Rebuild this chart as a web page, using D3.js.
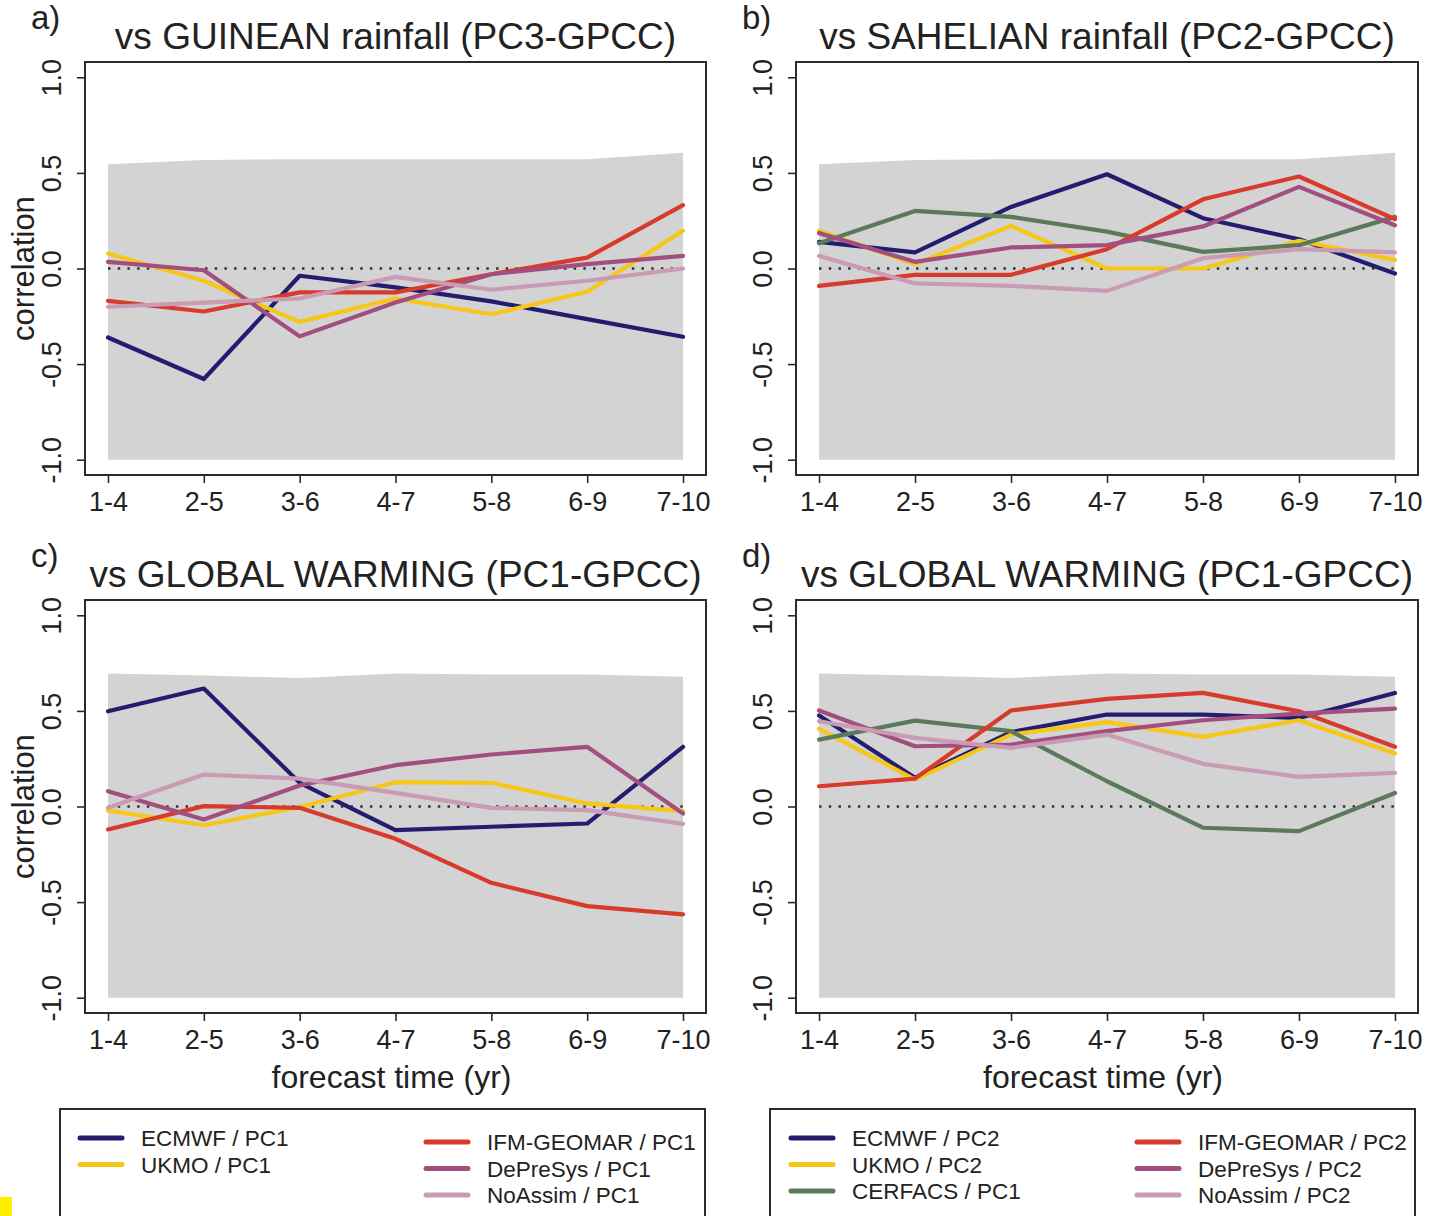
<!DOCTYPE html>
<html>
<head>
<meta charset="utf-8">
<script src="https://cdn.jsdelivr.net/npm/d3@7"></script>
<style>
  html, body { margin: 0; padding: 0; background: #fff; }
  svg { display: block; font-family: "Liberation Sans", Arial, Helvetica, sans-serif; }
</style>
</head>
<body>
<svg id="fig" width="1432" height="1216"></svg>
<script>
// Forecast lead-time windows and axis labels
const leadTimes = ["1-4", "2-5", "3-6", "4-7", "5-8", "6-9", "7-10"];
const yTickValues = [-1, -0.5, 0, 0.5, 1];
const yTickLabels = ["-1.0", "-0.5", "0.0", "0.5", "1.0"];

// Upper bound of the shaded envelope (lower bound is -1)
const envelopeRainfall = [0.545, 0.568, 0.571, 0.571, 0.571, 0.571, 0.606];
const envelopeWarming  = [0.695, 0.685, 0.672, 0.695, 0.690, 0.690, 0.678];

// a) vs Guinean rainfall (PC3-GPCC)
const guineanEcmwf    = [-0.361, -0.578, -0.038, -0.099, -0.172, -0.265, -0.357];
const guineanUkmo     = [0.078, -0.064, -0.279, -0.157, -0.239, -0.122, 0.197];
const guineanIfm      = [-0.169, -0.225, -0.125, -0.125, -0.030, 0.057, 0.331];
const guineanDepresys = [0.035, -0.009, -0.355, -0.178, -0.030, 0.023, 0.066];
const guineanNoassim  = [-0.200, -0.178, -0.157, -0.044, -0.111, -0.064, 0.000];

// b) vs Sahelian rainfall (PC2-GPCC)
const sahelEcmwf    = [0.139, 0.084, 0.322, 0.493, 0.263, 0.153, -0.026];
const sahelUkmo     = [0.197, 0.023, 0.223, 0.000, 0.000, 0.145, 0.045];
const sahelCerfacs  = [0.132, 0.301, 0.270, 0.193, 0.087, 0.122, 0.270];
const sahelIfm      = [-0.091, -0.033, -0.033, 0.101, 0.362, 0.481, 0.258];
const sahelDepresys = [0.185, 0.035, 0.110, 0.122, 0.220, 0.427, 0.226];
const sahelNoassim  = [0.066, -0.078, -0.091, -0.117, 0.054, 0.101, 0.084];

// c) vs global warming (PC1-GPCC), models' PC1
const warmPc1Ecmwf    = [0.498, 0.617, 0.124, -0.124, -0.106, -0.089, 0.312];
const warmPc1Ukmo     = [-0.021, -0.098, -0.003, 0.127, 0.124, 0.016, -0.024];
const warmPc1Ifm      = [-0.120, 0.002, -0.007, -0.169, -0.399, -0.521, -0.564];
const warmPc1Depresys = [0.080, -0.068, 0.110, 0.216, 0.272, 0.312, -0.037];
const warmPc1Noassim  = [-0.007, 0.167, 0.146, 0.071, -0.007, -0.019, -0.091];

// d) vs global warming (PC1-GPCC), models' PC2 (CERFACS PC1)
const warmPc2Ecmwf    = [0.476, 0.150, 0.389, 0.481, 0.481, 0.463, 0.594];
const warmPc2Ukmo     = [0.406, 0.141, 0.376, 0.441, 0.364, 0.451, 0.277];
const warmPc2Cerfacs  = [0.350, 0.449, 0.394, 0.132, -0.111, -0.129, 0.071];
const warmPc2Ifm      = [0.106, 0.146, 0.502, 0.563, 0.594, 0.498, 0.312];
const warmPc2Depresys = [0.502, 0.315, 0.324, 0.394, 0.451, 0.486, 0.512];
const warmPc2Noassim  = [0.446, 0.359, 0.307, 0.376, 0.223, 0.155, 0.176];

// Model colours
const colors = {
  ECMWF: "#231d70",
  UKMO: "#f6c717",
  CERFACS: "#5a7a5b",
  IFM: "#d83a2b",
  DePreSys: "#a24f80",
  NoAssim: "#c99bb5"
};

const panels = [
  { tag: "a)", title: "vs GUINEAN rainfall (PC3-GPCC)", left: 85, right: 706, top: 62, bottom: 475,
    ylabel: true, xlabel: false, envelope: envelopeRainfall,
    series: [["ECMWF", guineanEcmwf], ["UKMO", guineanUkmo], ["IFM", guineanIfm],
             ["DePreSys", guineanDepresys], ["NoAssim", guineanNoassim]] },
  { tag: "b)", title: "vs SAHELIAN rainfall (PC2-GPCC)", left: 796, right: 1418, top: 62, bottom: 475,
    ylabel: false, xlabel: false, envelope: envelopeRainfall,
    series: [["ECMWF", sahelEcmwf], ["UKMO", sahelUkmo], ["CERFACS", sahelCerfacs],
             ["IFM", sahelIfm], ["DePreSys", sahelDepresys], ["NoAssim", sahelNoassim]] },
  { tag: "c)", title: "vs GLOBAL WARMING (PC1-GPCC)", left: 85, right: 706, top: 600, bottom: 1013,
    ylabel: true, xlabel: true, envelope: envelopeWarming,
    series: [["ECMWF", warmPc1Ecmwf], ["UKMO", warmPc1Ukmo], ["IFM", warmPc1Ifm],
             ["DePreSys", warmPc1Depresys], ["NoAssim", warmPc1Noassim]] },
  { tag: "d)", title: "vs GLOBAL WARMING (PC1-GPCC)", left: 796, right: 1418, top: 600, bottom: 1013,
    ylabel: false, xlabel: true, envelope: envelopeWarming,
    series: [["ECMWF", warmPc2Ecmwf], ["UKMO", warmPc2Ukmo], ["CERFACS", warmPc2Cerfacs],
             ["IFM", warmPc2Ifm], ["DePreSys", warmPc2Depresys], ["NoAssim", warmPc2Noassim]] }
];

const svg = d3.select("#fig");
const ink = "#222";

panels.forEach(p => {
  const g = svg.append("g");
  // R-style 4% padding around the data range
  const x = d3.scaleLinear().domain([-0.24, 6.24]).range([p.left, p.right]);
  const y = d3.scaleLinear().domain([-1.08, 1.08]).range([p.bottom, p.top]);
  const idx = d3.range(leadTimes.length);

  // shaded significance envelope
  const area = d3.area()
    .x(i => x(i))
    .y0(() => y(-1))
    .y1(i => y(p.envelope[i]));
  g.append("path").datum(idx).attr("d", area).attr("fill", "#d3d3d3");

  // zero reference line
  g.append("line")
    .attr("x1", x(0)).attr("x2", x(6))
    .attr("y1", y(0)).attr("y2", y(0))
    .attr("stroke", "#333").attr("stroke-width", 2.5)
    .attr("stroke-dasharray", "2.5,7.2");

  // model correlation curves
  const line = d3.line().x((d, i) => x(i)).y(d => y(d));
  p.series.forEach(([name, vals]) => {
    g.append("path").datum(vals).attr("d", line)
      .attr("fill", "none").attr("stroke", colors[name])
      .attr("stroke-width", 4.2).attr("stroke-linejoin", "round").attr("stroke-linecap", "round");
  });

  // frame
  g.append("rect")
    .attr("x", p.left).attr("y", p.top)
    .attr("width", p.right - p.left).attr("height", p.bottom - p.top)
    .attr("fill", "none").attr("stroke", "#2b2b2b").attr("stroke-width", 2);

  // x axis
  const xa = g.append("g").attr("transform", `translate(0,${p.bottom})`)
    .call(d3.axisBottom(x).tickValues(idx).tickFormat(i => leadTimes[i]).tickSize(8).tickPadding(7));
  xa.select(".domain").remove();
  xa.selectAll("line").attr("stroke", "#2b2b2b").attr("stroke-width", 1.6);
  xa.selectAll("text").attr("font-size", 27).attr("fill", ink).attr("font-family", "Liberation Sans, Arial, sans-serif")
    .attr("dy", 0).attr("y", 36);

  // y axis with labels parallel to the axis
  const ya = g.append("g").attr("transform", `translate(${p.left},0)`)
    .call(d3.axisLeft(y).tickValues(yTickValues).tickFormat((d, i) => yTickLabels[i]).tickSize(8));
  ya.select(".domain").remove();
  ya.selectAll("line").attr("stroke", "#2b2b2b").attr("stroke-width", 1.6);
  ya.selectAll("text")
    .attr("font-size", 27).attr("fill", ink).attr("font-family", "Liberation Sans, Arial, sans-serif")
    .attr("text-anchor", "middle").attr("transform", "rotate(-90)")
    .attr("x", 0).attr("y", -24).attr("dy", 0);

  // panel tag and title
  g.append("text").attr("x", p.left - 54).attr("y", p.top - 33)
    .attr("font-size", 33).attr("fill", ink).text(p.tag);
  g.append("text").attr("x", (p.left + p.right) / 2).attr("y", p.top - 13)
    .attr("text-anchor", "middle").attr("font-size", 37).attr("fill", ink).text(p.title);

  if (p.ylabel) {
    g.append("text")
      .attr("transform", `translate(34,${(p.top + p.bottom) / 2}) rotate(-90)`)
      .attr("text-anchor", "middle").attr("font-size", 31).attr("fill", ink).text("correlation");
  }
  if (p.xlabel) {
    g.append("text").attr("x", (p.left + p.right) / 2 - 4).attr("y", p.bottom + 75)
      .attr("text-anchor", "middle").attr("font-size", 32).attr("fill", ink).text("forecast time (yr)");
  }
});

// Legends
const legendLeftCol1 = [["ECMWF", "ECMWF / PC1"], ["UKMO", "UKMO / PC1"]];
const legendLeftCol2 = [["IFM", "IFM-GEOMAR / PC1"], ["DePreSys", "DePreSys / PC1"], ["NoAssim", "NoAssim / PC1"]];
const legendRightCol1 = [["ECMWF", "ECMWF / PC2"], ["UKMO", "UKMO / PC2"], ["CERFACS", "CERFACS / PC1"]];
const legendRightCol2 = [["IFM", "IFM-GEOMAR / PC2"], ["DePreSys", "DePreSys / PC2"], ["NoAssim", "NoAssim / PC2"]];

function legendBox(x0, x1, cols) {
  const g = svg.append("g");
  g.append("rect").attr("x", x0).attr("y", 1109).attr("width", x1 - x0).attr("height", 140)
    .attr("fill", "none").attr("stroke", "#2b2b2b").attr("stroke-width", 2);
  cols.forEach(c => {
    c.items.forEach(([key, label], i) => {
      const cy = c.y0 + i * 26.5;
      g.append("line").attr("x1", c.sx).attr("x2", c.sx + 42).attr("y1", cy).attr("y2", cy)
        .attr("stroke", colors[key]).attr("stroke-width", 5).attr("stroke-linecap", "round");
      g.append("text").attr("x", c.sx + 61).attr("y", cy + 8)
        .attr("font-size", 22.5).attr("fill", ink).text(label);
    });
  });
}
legendBox(60, 705, [
  { sx: 80, y0: 1138, items: legendLeftCol1 },
  { sx: 426, y0: 1142, items: legendLeftCol2 }
]);
legendBox(770, 1415, [
  { sx: 791, y0: 1138, items: legendRightCol1 },
  { sx: 1137, y0: 1142, items: legendRightCol2 }
]);

// small yellow marker at the lower left edge
svg.append("rect").attr("x", 0).attr("y", 1197).attr("width", 12).attr("height", 19).attr("fill", "#ffee00");
</script>
</body>
</html>
